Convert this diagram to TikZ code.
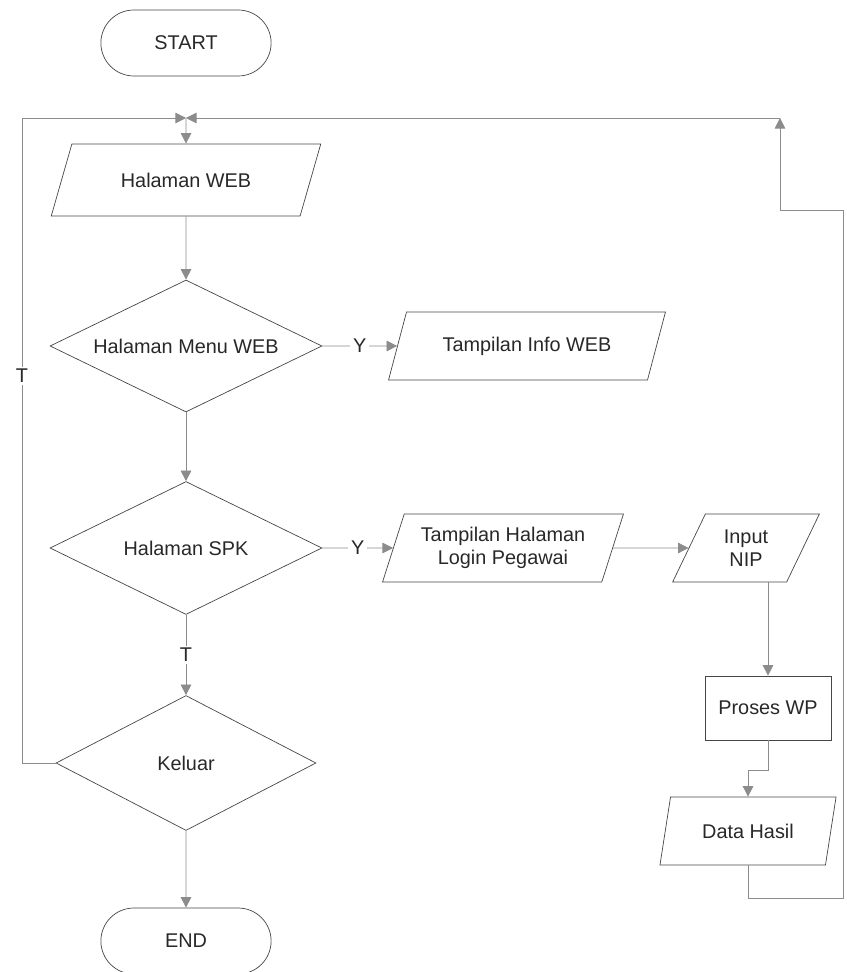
\documentclass[tikz,border=0pt]{standalone}
\usepackage{fontspec}
\setmainfont{Liberation Sans}
\usetikzlibrary{shapes.geometric,shapes.misc,arrows.meta,positioning,calc}
\definecolor{shapegray}{RGB}{70,70,70}
\definecolor{linegray}{RGB}{140,140,140}
\definecolor{textgray}{RGB}{40,40,40}

\begin{document}
\begin{tikzpicture}[
x=0.02cm, y=-0.02cm,
every node/.style={font=\fontsize{11.3}{13}\selectfont, text=textgray},
terminal/.style={
  rounded rectangle,
  draw=shapegray,
  minimum width=3.64cm,
  minimum height=1.32cm},
io/.style={
  trapezium,
  trapezium stretches=true,
  trapezium left angle=#1,
  trapezium right angle=180-#1,
  draw=shapegray,
  minimum height=1.36cm,
  align=center},
decision/.style={
  diamond,
  aspect=2.06,
  draw=shapegray,
  minimum width=5.44cm,
  minimum height=2.64cm,
  inner sep=0pt},
process/.style={
  rectangle,
  draw=shapegray,
  minimum width=2.52cm,
  minimum height=1.28cm},
line/.style={draw=linegray, -{Triangle[length=6pt,width=6pt]}, linegray},
lbl/.style={fill=white, inner sep=1.5pt}
]
\useasboundingbox (0,0) rectangle (846,972);

% main column
\node[terminal] (start) at (186,43) {START};
\node[io=64, minimum width=5.44cm, minimum height=1.44cm] (web) at (186,180) {Halaman WEB};
\node[decision] (menu) at (186,346) {Halaman Menu WEB};
\node[decision, minimum height=2.66cm] (spk) at (186,548) {Halaman SPK};
\node[decision, minimum width=5.2cm, minimum height=2.7cm] (keluar) at (186,763) {Keluar};
\node[terminal] (end) at (186,941) {END};

% right side
\node[io=66, minimum width=5.54cm] (info) at (527,346) {Tampilan Info WEB};
\node[io=70, minimum width=4.82cm] (login) at (503,548) {Tampilan Halaman\\Login Pegawai};
\node[io=65, minimum width=2.94cm] (nip) at (746,548) {Input\\NIP};
\node[process] (proses) at (768,708) {Proses WP};
\node[io=75, minimum width=3.54cm] (hasil) at (748,831) {Data Hasil};

\coordinate (merge) at (186,118);
\coordinate (lft) at (22,118);
\coordinate (rgt) at (843,898);
\coordinate (up) at (780,118);

\draw[line] (merge) -- (web);
\draw[line] (web) -- (menu);
\draw[line] (menu) -- node[lbl]{Y} (info);
\draw[line] (menu) -- (spk);
\draw[line] (spk) -- node[lbl]{Y} (login);
\draw[line] (login) -- (nip);
\draw[line] (nip.south -| proses.north) -- (proses.north);
\draw[line] (proses.south) -- ++(0,30) -| (hasil.north);
\draw[line] (spk) -- node[lbl]{T} (keluar);
\draw[line] (keluar) -- (end);

% loops back
\draw[line] (keluar.west) -| node[lbl, pos=0.8]{T} (lft) -- (merge);
\draw[line] (hasil.south) |- (rgt) -- (rgt |- 0,210) -| (up);
\draw[line] (up) -- (merge);
\end{tikzpicture}
\end{document}
